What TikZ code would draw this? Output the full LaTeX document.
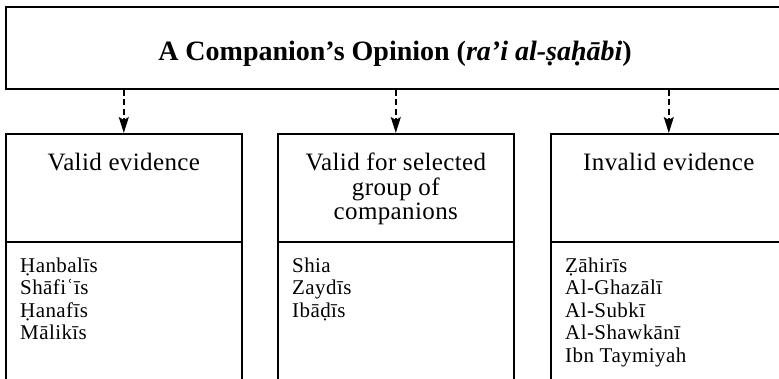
\documentclass[tikz,border=0pt]{standalone}
\usepackage{fontspec}
\setmainfont{Liberation Serif}
\newfontfamily\hdfont[LetterSpace=1.5]{Liberation Serif}
\newfontfamily\lsfont[LetterSpace=2]{Liberation Serif}
\usetikzlibrary{arrows.meta}
\begin{document}
\begin{tikzpicture}[x=1pt,y=1pt,
  boxline/.style={draw, line width=1.6pt, inner sep=0pt, anchor=north west},
  conn/.style={line width=1.5pt, dash pattern=on 6pt off 3.5pt, -{Stealth[length=16pt,width=10pt,inset=3pt]}},
  hdtext/.style={anchor=north, inner sep=0pt, align=center, font=\hdfont\fontsize{25}{24.3}\selectfont},
  lstext/.style={anchor=north west, inner sep=0pt, align=left, font=\lsfont\fontsize{21}{22.5}\selectfont}]
\useasboundingbox (0,0) rectangle (779,-378);
\clip (0,0) rectangle (779,-378);
\fill[white] (0,0) rectangle (779,-378);
% top box
\node[boxline, minimum width=781pt, minimum height=82pt] (top) at (5,-6) {};
\node[inner sep=0pt, anchor=base, font=\bfseries\fontsize{28}{30}\selectfont] (title) at (395,-60) {A Companion’s Opinion (\textit{ra’i al-ṣaḥābi})};
% column header boxes
\node[boxline, minimum width=236pt, minimum height=108pt] (h1) at (5,-133) {};
\node[boxline, minimum width=236pt, minimum height=108pt] (h2) at (277,-133) {};
\node[boxline, minimum width=236pt, minimum height=108pt] (h3) at (550,-133) {};
% column list boxes
\node[boxline, minimum width=236pt, minimum height=200pt] (l1) at (5,-241) {};
\node[boxline, minimum width=236pt, minimum height=200pt] (l2) at (277,-241) {};
\node[boxline, minimum width=236pt, minimum height=200pt] (l3) at (550,-241) {};
% header texts
\node[hdtext] (t1) at ([yshift=-20pt]h1.north) {Valid evidence};
\node[hdtext] (t2) at ([yshift=-20pt]h2.north) {Valid for selected\\group of\\companions};
\node[hdtext] (t3) at ([yshift=-20pt]h3.north) {Invalid evidence};
% list texts
\node[lstext] (s1) at ([xshift=15pt,yshift=-16.5pt]l1.north west) {Ḥanbalīs\\Shāfiʿīs\\Ḥanafīs\\Mālikīs};
\node[lstext] (s2) at ([xshift=15pt,yshift=-16.5pt]l2.north west) {Shia\\Zaydīs\\Ibāḍīs};
\node[lstext] (s3) at ([xshift=15pt,yshift=-16.5pt]l3.north west) {Ẓāhirīs\\Al-Ghazālī\\Al-Subkī\\Al-Shawkānī\\Ibn Taymiyah};
% connectors
\draw[conn] (top.south -| h1.north) -- (h1.north);
\draw[conn] (top.south -| h2.north) -- (h2.north);
\draw[conn] (top.south -| h3.north) -- (h3.north);
\end{tikzpicture}
\end{document}
